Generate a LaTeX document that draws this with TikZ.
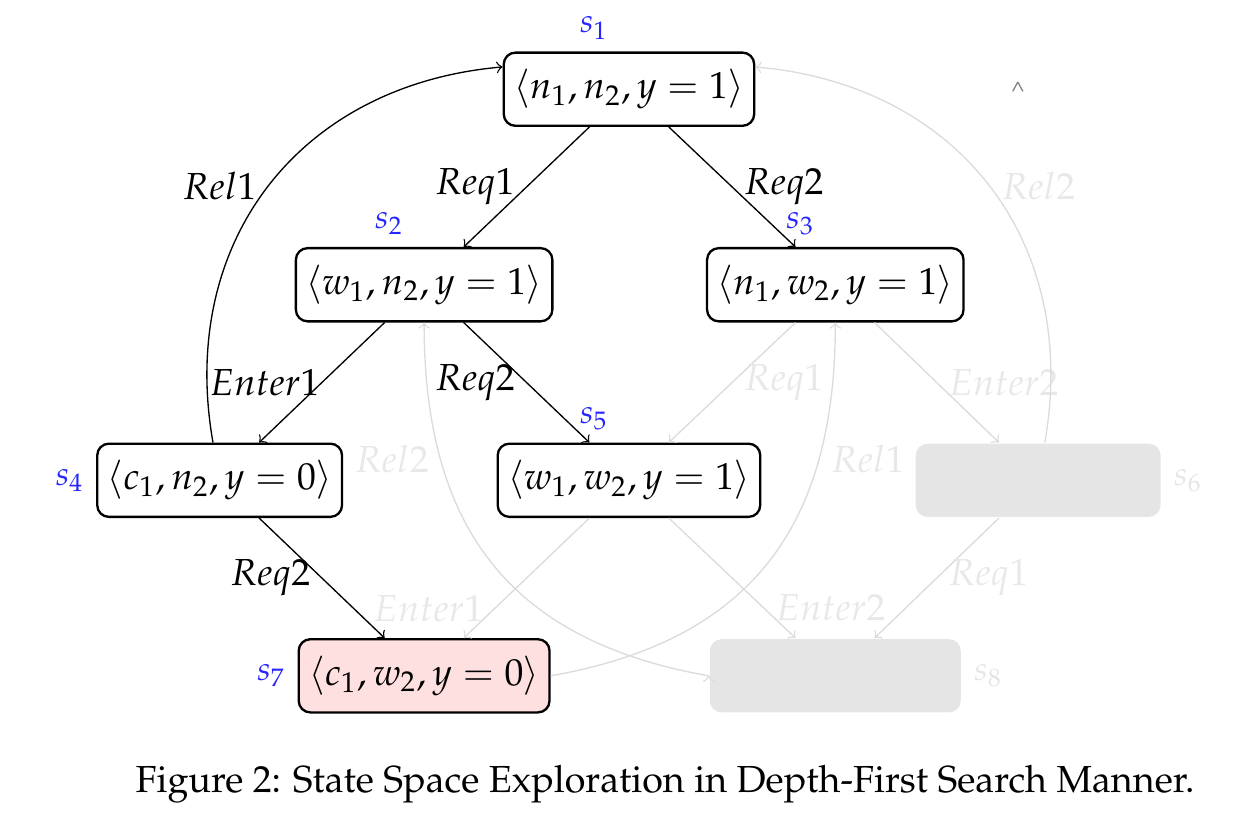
\documentclass[tikz,border=0pt]{standalone}
\usepackage[T1]{fontenc}
\usepackage{mathpazo}
\usepackage{amssymb,mathtools}
\usepackage{tikz}
\usetikzlibrary{matrix,arrows}

\tikzset{
  state/.style={draw, rounded corners=3.5pt, line width=0.7pt, inner xsep=3pt, inner ysep=5pt, font=\fontsize{11.3}{13.6}\selectfont},
  hidden/.style={draw=none, fill=black!10},
  goal/.style={fill=red!12},
  sname/.style={overlay, draw=none, fill=none, inner sep=.3333em, text=blue!85, font=\normalsize},
  hname/.style={sname, text=black!10},
  faded/.style={draw=black!14, text=black!9}
}

\begin{document}
\begin{tikzpicture}[x=0.3pt, y=-0.3pt]
			\useasboundingbox (0,0) rectangle (1260,834);
			\matrix (m) at (628.3,382.5) [matrix of math nodes, row sep=36pt, column sep=-17.1pt, nodes={state}]
			{
				&[2.55pt] & |[label={[sname,xshift=-10.5pt]above:s_1}]| \langle n_1,n_2,y=1\rangle &[0.45pt] &[2.4pt] \\
				& |[label={[sname,xshift=-10.5pt]above:s_2}]| \langle w_1,n_2,y=1\rangle & & |[label={[sname,xshift=-10.5pt]above:s_3}]| \langle n_1,w_2,y=1\rangle & \\
				|[label={[sname]left:s_4}]| \langle c_1,n_2,y=0\rangle & & |[label={[sname,xshift=-10.5pt]above:s_5}]| \langle w_1,w_2,y=1\rangle & & |[hidden,label={[hname]right:s_6}]| \phantom{\langle n_1,c_2,y=0\rangle} \\
				& |[goal,label={[sname]left:s_7}]| \langle c_1,w_2,y=0\rangle & & |[hidden,label={[hname]right:s_8}]| \phantom{\langle w_1,c_2,y=0\rangle} & \\
			};
			\path[->, font=\fontsize{11.3}{13.6}\selectfont]
			(m-1-3) edge node[left]{\(Req1\)} (m-2-2) edge node[right]{\(Req2\)} (m-2-4)
			(m-2-2) edge node[left, inner sep=0.5pt]{\(Enter1\)} (m-3-1) edge node[left]{\(Req2\)} (m-3-3)
			(m-3-1) edge node[left]{\(Req2\)} (m-4-2)
			(m-3-1) edge[out=100, in=185, looseness=1.1] node[left]{\(Rel1\)} (m-1-3.170);
			\path[->, faded, font=\fontsize{11.3}{13.6}\selectfont]
			(m-2-4) edge node[right]{\(Req1\)} (m-3-3) edge node[right]{\(Enter2\)} (m-3-5)
			(m-3-3) edge node[pos=0.75, left]{\(Enter1\)} (m-4-2) edge node[pos=0.75, right]{\(Enter2\)} (m-4-4)
			(m-3-5) edge node[right]{\(Req1\)} (m-4-4)
			(m-3-5) edge[out=80, in=-5, looseness=1.1] node[right]{\(Rel2\)} (m-1-3.10)
			(m-4-2.east) edge[out=10, in=-90, looseness=1.15] node[pos=0.75, right]{\(Rel1\)} (m-2-4)
			(m-4-4.west) edge[out=170, in=-90, looseness=1.15] node[pos=0.75, left]{\(Rel2\)} (m-2-2);
			\node[text=black!50, font=\scriptsize] (mark) at (1018,90) {\textasciicircum};
			\node[font=\fontsize{11.3}{13.6}\selectfont] (cap) at (665,784) {Figure 2: State Space Exploration in Depth-First Search Manner.};
		\end{tikzpicture}
\end{document}
